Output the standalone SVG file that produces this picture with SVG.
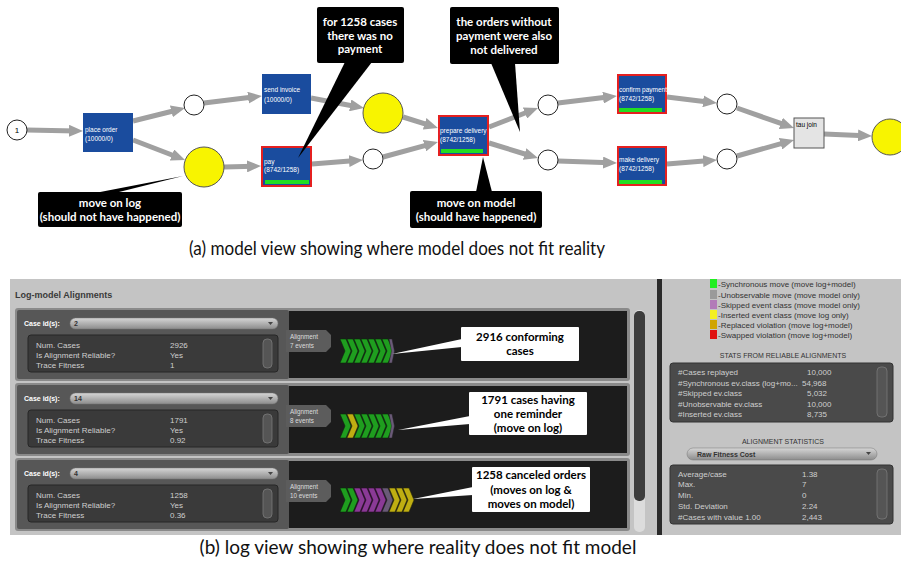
<svg xmlns="http://www.w3.org/2000/svg" width="901" height="568" viewBox="0 0 901 568">
<style>
.arc{stroke:#a0a0a0;stroke-width:5;fill:none;marker-end:url(#ah)}
.trans{fill:#1a4c9e}
.red{stroke:#e52020;stroke-width:2}
.gbar{fill:#22dd22}
.tl{font-family:"Liberation Sans",Arial,sans-serif;font-size:6.5px;fill:#fff}
.place{fill:#fff;stroke:#222;stroke-width:1}
.yplace{fill:#f8f400;stroke:#555;stroke-width:1}
.bc{fill:#000}
.bt{font-family:Lato,"Liberation Sans",sans-serif;font-weight:bold;font-size:11.5px;fill:#fff;text-anchor:middle}
.wc{fill:#fff}
.wt{font-family:Lato,"Liberation Sans",sans-serif;font-weight:bold;font-size:11.5px;fill:#000;text-anchor:middle}
.cap{font-family:Lato,"Liberation Sans",sans-serif;font-size:19px;fill:#111;text-anchor:middle}
.pt{font-family:"Liberation Sans",Arial,sans-serif;font-size:8px;fill:#cfcfcf}
.ct{font-family:"Liberation Sans",Arial,sans-serif;font-size:7px;font-weight:bold;fill:#fff}
.pn{font-family:"Liberation Sans",Arial,sans-serif;font-size:7px;font-weight:bold;fill:#333}
.lg{font-family:"Liberation Sans",Arial,sans-serif;font-size:8px;fill:#333}
.hd{font-family:"Liberation Sans",Arial,sans-serif;font-size:7px;fill:#333;text-anchor:middle}
.at{font-family:"Liberation Sans",Arial,sans-serif;font-size:6.3px;fill:#ddd}
.tbl{fill:#3a3a3a;stroke:#262626;stroke-width:1}
.rtbl{fill:#4a4a4a;stroke:#333;stroke-width:1}
.thumb{fill:#555;stroke:#7a7a7a;stroke-width:0.8}
.pill{fill:url(#pg);stroke:#777;stroke-width:0.5}
.cg{fill:#1f9e1f;stroke:#0b2a0b;stroke-width:0.6}
.cy{fill:#bfae12;stroke:#2a2a0b;stroke-width:0.6}
.cp{fill:#8a3a96;stroke:#2a0b2a;stroke-width:0.6}
.cx{fill:#6a5a78;stroke:#222;stroke-width:0.6}
</style>
<defs>
<marker id="ah" markerWidth="14" markerHeight="12" refX="7" refY="6" orient="auto" markerUnits="userSpaceOnUse">
<path d="M0,0 L14,6 L0,12 z" fill="#a0a0a0"/>
</marker>
<linearGradient id="pg" x1="0" y1="0" x2="0" y2="1">
<stop offset="0" stop-color="#d6d6d6"/>
<stop offset="1" stop-color="#8c8c8c"/>
</linearGradient>
<path id="chev" d="M0,-12 L6,-12 L11,0 L6,12 L0,12 L5,0 Z"/>
<polygon id="tab" points="0,0 40,0 45,5 45,17 40,22 0,22"/>
</defs>
<rect x="0" y="0" width="901" height="568" fill="#fff"/>

<!-- ===== (a) model view ===== -->
<g id="connectors">
<line class="arc" x1="27" y1="130" x2="76" y2="130.9"/>
<line class="arc" x1="133" y1="121" x2="178.2" y2="109.7"/>
<line class="arc" x1="133" y1="140" x2="178.5" y2="157.5"/>
<line class="arc" x1="204" y1="103" x2="255" y2="96.8"/>
<line class="arc" x1="224" y1="167" x2="254" y2="166.2"/>
<line class="arc" x1="311" y1="98" x2="357.1" y2="106.7"/>
<line class="arc" x1="312" y1="164" x2="356" y2="160.5"/>
<line class="arc" x1="403" y1="117" x2="431.3" y2="125.9"/>
<line class="arc" x1="383" y1="157" x2="431.2" y2="143.8"/>
<line class="arc" x1="489" y1="127" x2="531.5" y2="110.5"/>
<line class="arc" x1="489" y1="143" x2="531.3" y2="156"/>
<line class="arc" x1="558" y1="103" x2="610" y2="96.8"/>
<line class="arc" x1="558" y1="161" x2="610" y2="162.8"/>
<line class="arc" x1="667" y1="97" x2="710" y2="102.2"/>
<line class="arc" x1="667" y1="164" x2="710" y2="160.6"/>
<line class="arc" x1="737" y1="108" x2="787.4" y2="125.7"/>
<line class="arc" x1="737" y1="156" x2="787.3" y2="141.9"/>
<line class="arc" x1="824" y1="134" x2="865" y2="135.7"/>
</g>

<g id="start"><circle class="place" cx="17" cy="130" r="10"/><text x="17" y="133" font-family="Liberation Sans,Arial,sans-serif" font-size="8" text-anchor="middle" fill="#000">1</text></g>
<g id="place_order"><rect class="trans" x="83" y="113" width="50" height="39"/><text class="tl" x="85" y="132">place order</text><text class="tl" x="85" y="141">(10000/0)</text></g>
<g id="p1"><circle class="place" cx="194" cy="105" r="10"/></g>
<g id="p2"><circle class="yplace" cx="204" cy="167" r="20"/></g>
<g id="send_invoice"><rect class="trans" x="262" y="74" width="49" height="40"/><text class="tl" x="264" y="92">send invoice</text><text class="tl" x="264" y="102">(10000/0)</text></g>
<g id="pay"><rect class="trans red" x="262" y="147" width="49" height="39"/><rect class="gbar" x="265" y="180" width="44" height="4"/><text class="tl" x="264" y="164">pay</text><text class="tl" x="264" y="172">(8742/1258)</text></g>
<g id="p3"><circle class="yplace" cx="383" cy="113" r="20"/></g>
<g id="p4"><circle class="place" cx="373" cy="159" r="10"/></g>
<g id="prepare_delivery"><rect class="trans red" x="439" y="116" width="49" height="39"/><rect class="gbar" x="441" y="149" width="42" height="4"/><text class="tl" x="440" y="133">prepare delivery</text><text class="tl" x="440" y="142">(8742/1258)</text></g>
<g id="p5"><circle class="place" cx="548" cy="105" r="10"/></g>
<g id="p6"><circle class="place" cx="548" cy="160" r="10"/></g>
<g id="confirm_payment"><rect class="trans red" x="618" y="75" width="48" height="38"/><rect class="gbar" x="619" y="108" width="43" height="4"/><text class="tl" x="619" y="92">confirm payment</text><text class="tl" x="619" y="101">(8742/1258)</text></g>
<g id="make_delivery"><rect class="trans red" x="618" y="147" width="48" height="38"/><rect class="gbar" x="619" y="180" width="43" height="4"/><text class="tl" x="619" y="162">make delivery</text><text class="tl" x="619" y="171">(8742/1258)</text></g>
<g id="p7"><circle class="place" cx="727" cy="104" r="10"/></g>
<g id="p8"><circle class="place" cx="727" cy="159" r="10"/></g>
<g id="tau_join"><rect x="794" y="118" width="30" height="30" fill="#e4e4e4" stroke="#555" stroke-width="1"/><text x="796" y="127" font-family="Liberation Sans,Arial,sans-serif" font-size="6.5" fill="#000">tau join</text></g>
<g id="end"><circle class="yplace" cx="890" cy="137" r="18"/></g>

<g id="callout_move_log"><polygon class="bc" points="95,193 115,193 183,176"/><rect class="bc" x="38" y="192" width="144" height="35" rx="2"/><text class="bt" x="110" y="207">move on log</text><text class="bt" x="110" y="221">(should not have happened)</text></g>
<g id="callout_no_payment"><polygon class="bc" points="345,62 372,62 298,158"/><rect class="bc" x="317" y="7" width="87" height="56" rx="2"/><text class="bt" x="360" y="26">for 1258 cases</text><text class="bt" x="360" y="40">there was no</text><text class="bt" x="360" y="53">payment</text></g>
<g id="callout_not_delivered"><polygon class="bc" points="491,63 515,63 520,132"/><rect class="bc" x="450" y="7" width="109" height="57" rx="2"/><text class="bt" x="504" y="26">the orders without</text><text class="bt" x="504" y="40">payment were also</text><text class="bt" x="504" y="54">not delivered</text></g>
<g id="callout_move_model"><polygon class="bc" points="476,192 492,192 483,157"/><rect class="bc" x="410" y="191" width="132" height="37" rx="2"/><text class="bt" x="476" y="207">move on model</text><text class="bt" x="476" y="221">(should have happened)</text></g>

<text class="cap" x="397" y="255" font-size="18" textLength="416" lengthAdjust="spacingAndGlyphs">(a) model view showing where model does not fit reality</text>

<!-- ===== (b) log view ===== -->
<g id="log_panel">
<rect x="10" y="279" width="891" height="256" fill="#c4c4c4"/>
<text x="15" y="298" font-family="Liberation Sans,Arial,sans-serif" font-size="9" font-weight="bold" fill="#3a3a3a">Log-model Alignments</text>

<!-- row 1 -->
<g id="row1">
<rect x="15" y="308" width="615" height="73" rx="3" fill="#8a8a8a"/>
<rect x="17" y="310" width="272" height="69" rx="2" fill="#575757"/>
<rect x="289" y="311" width="338" height="67" fill="#1c1c1c"/>
<text class="ct" x="24" y="326">Case id(s):</text>
<rect class="pill" x="70" y="318" width="208" height="11" rx="5.5"/><text class="pn" x="74" y="326">2</text><path d="M268,322 L273,322 L270.5,325 z" fill="#444"/>
<rect class="tbl" x="28" y="335" width="250" height="37" rx="3"/>
<text class="pt" x="36" y="348">Num. Cases</text><text class="pt" x="170" y="348">2926</text>
<text class="pt" x="36" y="358">Is Alignment Reliable?</text><text class="pt" x="170" y="358">Yes</text>
<text class="pt" x="36" y="368">Trace Fitness</text><text class="pt" x="170" y="368">1</text>
<rect class="thumb" x="263" y="339" width="9" height="29" rx="4"/>
<use href="#tab" x="286" y="330" fill="#5c5c5c"/>
<text class="at" x="290" y="339">Alignment</text><text class="at" x="290" y="348">7 events</text>
<use href="#chev" class="cg" x="340" y="351"/><use href="#chev" class="cg" x="347" y="351"/><use href="#chev" class="cg" x="354" y="351"/><use href="#chev" class="cg" x="361" y="351"/><use href="#chev" class="cg" x="368" y="351"/><use href="#chev" class="cg" x="375" y="351"/><use href="#chev" class="cg" x="382" y="351"/><use href="#chev" class="cx" x="389" y="351" transform="translate(389 351) scale(0.5 1) translate(-389 -351)"/>
</g>

<!-- row 2 -->
<g id="row2">
<rect x="15" y="383" width="615" height="73" rx="3" fill="#8a8a8a"/>
<rect x="17" y="385" width="272" height="69" rx="2" fill="#575757"/>
<rect x="289" y="386" width="338" height="67" fill="#1c1c1c"/>
<text class="ct" x="24" y="401">Case id(s):</text>
<rect class="pill" x="70" y="393" width="208" height="11" rx="5.5"/><text class="pn" x="74" y="401">14</text><path d="M268,397 L273,397 L270.5,400 z" fill="#444"/>
<rect class="tbl" x="28" y="410" width="250" height="37" rx="3"/>
<text class="pt" x="36" y="423">Num. Cases</text><text class="pt" x="170" y="423">1791</text>
<text class="pt" x="36" y="433">Is Alignment Reliable?</text><text class="pt" x="170" y="433">Yes</text>
<text class="pt" x="36" y="443">Trace Fitness</text><text class="pt" x="170" y="443">0.92</text>
<rect class="thumb" x="263" y="414" width="9" height="29" rx="4"/>
<use href="#tab" x="286" y="405" fill="#5c5c5c"/>
<text class="at" x="290" y="414">Alignment</text><text class="at" x="290" y="423">8 events</text>
<use href="#chev" class="cg" x="340" y="426"/><use href="#chev" class="cy" x="347" y="426"/><use href="#chev" class="cg" x="354" y="426"/><use href="#chev" class="cg" x="361" y="426"/><use href="#chev" class="cg" x="368" y="426"/><use href="#chev" class="cg" x="375" y="426"/><use href="#chev" class="cg" x="382" y="426"/><use href="#chev" class="cx" x="389" y="426" transform="translate(389 426) scale(0.5 1) translate(-389 -426)"/>
</g>

<!-- row 3 -->
<g id="row3">
<rect x="15" y="458" width="615" height="73" rx="3" fill="#8a8a8a"/>
<rect x="17" y="460" width="272" height="69" rx="2" fill="#575757"/>
<rect x="289" y="461" width="338" height="67" fill="#1c1c1c"/>
<text class="ct" x="24" y="476">Case id(s):</text>
<rect class="pill" x="70" y="468" width="208" height="11" rx="5.5"/><text class="pn" x="74" y="476">4</text><path d="M268,472 L273,472 L270.5,475 z" fill="#444"/>
<rect class="tbl" x="28" y="485" width="250" height="37" rx="3"/>
<text class="pt" x="36" y="498">Num. Cases</text><text class="pt" x="170" y="498">1258</text>
<text class="pt" x="36" y="508">Is Alignment Reliable?</text><text class="pt" x="170" y="508">Yes</text>
<text class="pt" x="36" y="518">Trace Fitness</text><text class="pt" x="170" y="518">0.36</text>
<rect class="thumb" x="263" y="489" width="9" height="29" rx="4"/>
<use href="#tab" x="286" y="480" fill="#5c5c5c"/>
<text class="at" x="290" y="489">Alignment</text><text class="at" x="290" y="498">10 events</text>
<use href="#chev" class="cg" x="340" y="500"/><use href="#chev" class="cg" x="347" y="500"/><use href="#chev" class="cp" x="354" y="500"/><use href="#chev" class="cp" x="361" y="500"/><use href="#chev" class="cp" x="368" y="500"/><use href="#chev" class="cp" x="375" y="500"/><use href="#chev" class="cx" x="382" y="500"/><use href="#chev" class="cy" x="389" y="500"/><use href="#chev" class="cy" x="396" y="500"/><use href="#chev" class="cy" x="403" y="500"/>
</g>

<!-- scrollbar -->
<rect x="634" y="310" width="11" height="222" rx="5" fill="#dcdcdc"/>
<rect x="634" y="311" width="11" height="190" rx="5" fill="#3c3c3c"/>
<rect x="657" y="279" width="5" height="256" fill="#2a2a2a"/>

<!-- right panel -->
<g id="legend">
<rect x="710" y="279" width="7" height="9" fill="#22ee22"/><text class="lg" x="718" y="287">-Synchronous move (move log+model)</text>
<rect x="710" y="290" width="7" height="9" fill="#9a9a9a"/><text class="lg" x="718" y="298">-Unobservable move (move model only)</text>
<rect x="710" y="300" width="7" height="9" fill="#b27ab8"/><text class="lg" x="718" y="308">-Skipped event class (move model only)</text>
<rect x="710" y="310" width="7" height="9" fill="#f4f020"/><text class="lg" x="718" y="318">-Inserted event class (move log only)</text>
<rect x="710" y="320" width="7" height="9" fill="#d0a400"/><text class="lg" x="718" y="328">-Replaced violation (move log+model)</text>
<rect x="710" y="330" width="7" height="9" fill="#e01010"/><text class="lg" x="718" y="338">-Swapped violation (move log+model)</text>
</g>
<text class="hd" x="783" y="358">STATS FROM RELIABLE ALIGNMENTS</text>
<rect class="rtbl" x="670" y="363" width="223" height="59" rx="3"/>
<text class="pt" x="678" y="375">#Cases replayed</text><text class="pt" x="807" y="375">10,000</text>
<text class="pt" x="678" y="386">#Synchronous ev.class (log+mo...</text><text class="pt" x="802" y="386">54,968</text>
<text class="pt" x="678" y="396">#Skipped ev.class</text><text class="pt" x="807" y="396">5,032</text>
<text class="pt" x="678" y="407">#Unobservable ev.class</text><text class="pt" x="807" y="407">10,000</text>
<text class="pt" x="678" y="417">#Inserted ev.class</text><text class="pt" x="807" y="417">8,735</text>
<rect class="thumb" x="877" y="367" width="10" height="50" rx="4"/>
<text class="hd" x="783" y="444">ALIGNMENT STATISTICS</text>
<rect class="pill" x="687" y="448" width="190" height="12" rx="6"/><text class="pn" x="697" y="457" font-weight="normal">Raw Fitness Cost</text><path d="M866,452 L871,452 L868.5,455 z" fill="#444"/>
<rect class="rtbl" x="670" y="465" width="223" height="59" rx="3"/>
<text class="pt" x="678" y="477">Average/case</text><text class="pt" x="802" y="477">1.38</text>
<text class="pt" x="678" y="487">Max.</text><text class="pt" x="802" y="487">7</text>
<text class="pt" x="678" y="498">Min.</text><text class="pt" x="802" y="498">0</text>
<text class="pt" x="678" y="509">Std. Deviation</text><text class="pt" x="802" y="509">2.24</text>
<text class="pt" x="678" y="520">#Cases with value 1.00</text><text class="pt" x="802" y="520">2,443</text>
<rect class="thumb" x="877" y="469" width="10" height="50" rx="4"/>
</g>

<g id="callout_conforming"><polygon class="wc" points="462,339 462,347 392,354"/><rect class="wc" x="461" y="327" width="118" height="34" rx="1"/><text class="wt" x="520" y="341">2916 conforming</text><text class="wt" x="520" y="355">cases</text></g>
<g id="callout_reminder"><polygon class="wc" points="470,416 470,424 398,430"/><rect class="wc" x="469" y="392" width="118" height="43" rx="1"/><text class="wt" x="528" y="404">1791 cases having</text><text class="wt" x="528" y="418">one reminder</text><text class="wt" x="528" y="432">(move on log)</text></g>
<g id="callout_canceled"><polygon class="wc" points="473,487 473,495 413,499"/><rect class="wc" x="472" y="467" width="118" height="45" rx="1"/><text class="wt" x="531" y="479">1258 canceled orders</text><text class="wt" x="531" y="494">(moves on log &amp;</text><text class="wt" x="531" y="508">moves on model)</text></g>

<text class="cap" x="418" y="554">(b) log view showing where reality does not fit model</text>
</svg>
